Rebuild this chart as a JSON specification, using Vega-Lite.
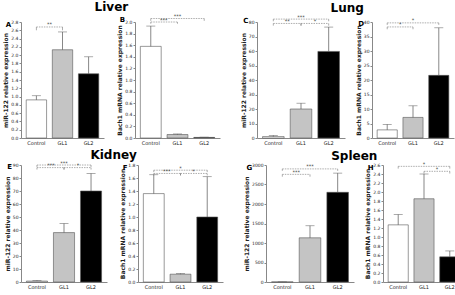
{
  "$schema": "https://vega.github.io/schema/vega-lite/v6.json",
  "padding": {"left": 2, "top": 1, "right": 2, "bottom": 1},
  "background": "white",
  "datasets": {
    "bars": [
      {"panel": "A", "group": "Control", "mean": 0.92, "upper": 1.02},
      {"panel": "A", "group": "GL1", "mean": 2.13, "upper": 2.56},
      {"panel": "A", "group": "GL2", "mean": 1.55, "upper": 1.96},
      {"panel": "B", "group": "Control", "mean": 1.58, "upper": 1.93},
      {"panel": "B", "group": "GL1", "mean": 0.06, "upper": 0.07},
      {"panel": "B", "group": "GL2", "mean": 0.01, "upper": 0.015},
      {"panel": "C", "group": "Control", "mean": 1.0, "upper": 1.8},
      {"panel": "C", "group": "GL1", "mean": 20.0, "upper": 24.0},
      {"panel": "C", "group": "GL2", "mean": 59.7, "upper": 76.5},
      {"panel": "D", "group": "Control", "mean": 2.8, "upper": 4.7},
      {"panel": "D", "group": "GL1", "mean": 7.1, "upper": 11.1},
      {"panel": "D", "group": "GL2", "mean": 21.6, "upper": 38.0},
      {"panel": "E", "group": "Control", "mean": 0.7, "upper": 1.2},
      {"panel": "E", "group": "GL1", "mean": 38.0, "upper": 45.0},
      {"panel": "E", "group": "GL2", "mean": 70.0, "upper": 83.5},
      {"panel": "F", "group": "Control", "mean": 1.36, "upper": 1.65},
      {"panel": "F", "group": "GL1", "mean": 0.12, "upper": 0.13},
      {"panel": "F", "group": "GL2", "mean": 1.0, "upper": 1.62},
      {"panel": "G", "group": "Control", "mean": 2, "upper": 4},
      {"panel": "G", "group": "GL1", "mean": 1133, "upper": 1442},
      {"panel": "G", "group": "GL2", "mean": 2300, "upper": 2792},
      {"panel": "H", "group": "Control", "mean": 1.27, "upper": 1.5},
      {"panel": "H", "group": "GL1", "mean": 1.85, "upper": 2.4},
      {"panel": "H", "group": "GL2", "mean": 0.56, "upper": 0.69}
    ],
    "sig": [
      {"panel": "A", "from": "Control", "to": "GL1", "y": 2.68, "ylow": 2.6, "label": "**"},
      {"panel": "B", "from": "Control", "to": "GL2", "y": 2.06, "ylow": 2.02, "label": "***"},
      {"panel": "B", "from": "Control", "to": "GL1", "y": 2.0, "ylow": 1.97, "label": "***"},
      {"panel": "C", "from": "Control", "to": "GL2", "y": 82, "ylow": 80.5, "label": "***"},
      {"panel": "C", "from": "Control", "to": "GL1", "y": 79, "ylow": 77.5, "label": "**"},
      {"panel": "C", "from": "GL1", "to": "GL2", "y": 79, "ylow": 77.5, "label": "*"},
      {"panel": "D", "from": "Control", "to": "GL2", "y": 39.7, "ylow": 39, "label": "*"},
      {"panel": "D", "from": "Control", "to": "GL1", "y": 38.3, "ylow": 37.5, "label": "*"},
      {"panel": "E", "from": "Control", "to": "GL2", "y": 90, "ylow": 88.5, "label": "***"},
      {"panel": "E", "from": "Control", "to": "GL1", "y": 88, "ylow": 86.5, "label": "***"},
      {"panel": "E", "from": "GL1", "to": "GL2", "y": 88, "ylow": 86.5, "label": "*"},
      {"panel": "F", "from": "Control", "to": "GL2", "y": 1.72, "ylow": 1.69, "label": "*"},
      {"panel": "F", "from": "Control", "to": "GL1", "y": 1.67, "ylow": 1.64, "label": "***"},
      {"panel": "F", "from": "GL1", "to": "GL2", "y": 1.67, "ylow": 1.64, "label": "*"},
      {"panel": "G", "from": "Control", "to": "GL2", "y": 2900, "ylow": 2850, "label": "***"},
      {"panel": "G", "from": "Control", "to": "GL1", "y": 2760, "ylow": 2700, "label": "***"},
      {"panel": "H", "from": "Control", "to": "GL2", "y": 2.57, "ylow": 2.52, "label": "*"},
      {"panel": "H", "from": "GL1", "to": "GL2", "y": 2.46, "ylow": 2.41, "label": "*"}
    ]
  },
  "vconcat": [
    {
      "hconcat": [
        {
          "title": {"text": "Liver", "fontSize": 12, "anchor": "middle", "offset": 0, "dx": 0, "frame": "bounds"},
          "spacing": 12,
          "hconcat": [
            {
              "title": {"text": "A"},
              "width": 83, "height": 116,
              "layer": [
                {"data": {"name": "bars"}, "transform": [{"filter": "datum.panel == 'A'"}],
                 "mark": {"type": "bar", "stroke": "#555", "strokeWidth": 0.6},
                 "encoding": {
                   "x": {"field": "group", "type": "nominal", "scale": {"domain": ["Control", "GL1", "GL2"], "paddingInner": 0.22, "paddingOuter": 0.2}, "axis": {"title": null, "labelAngle": 0, "ticks": false}},
                   "y": {"field": "mean", "type": "quantitative", "scale": {"domain": [0, 2.8], "nice": false}, "axis": {"title": "miR-122 relative expression", "values": [0, 0.2, 0.4, 0.6, 0.8, 1.0, 1.2, 1.4, 1.6, 1.8, 2.0, 2.2, 2.4, 2.6, 2.8], "tickCount": 30, "format": ".1f", "labelOverlap": false}},
                   "fill": {"field": "group", "type": "nominal", "scale": {"domain": ["Control", "GL1", "GL2"], "range": ["white", "#c4c4c4", "black"]}, "legend": null}
                 }},
                {"data": {"name": "bars"}, "transform": [{"filter": "datum.panel == 'A'"}],
                 "mark": {"type": "rule", "color": "#555", "strokeWidth": 0.7},
                 "encoding": {"x": {"field": "group", "type": "nominal"}, "y": {"field": "mean", "type": "quantitative"}, "y2": {"field": "upper"}}},
                {"data": {"name": "bars"}, "transform": [{"filter": "datum.panel == 'A'"}],
                 "mark": {"type": "tick", "color": "#555", "size": 9, "thickness": 0.7},
                 "encoding": {"x": {"field": "group", "type": "nominal"}, "y": {"field": "upper", "type": "quantitative"}}},
                {"data": {"name": "sig"}, "transform": [{"filter": "datum.panel == 'A'"}],
                 "mark": {"type": "rule", "color": "#777", "strokeWidth": 0.6, "strokeDash": [1.5, 1]},
                 "encoding": {"x": {"field": "from", "type": "nominal"}, "x2": {"field": "to"}, "y": {"field": "y", "type": "quantitative"}}},
                {"data": {"name": "sig"}, "transform": [{"filter": "datum.panel == 'A'"}],
                 "mark": {"type": "rule", "color": "#777", "strokeWidth": 0.6},
                 "encoding": {"x": {"field": "from", "type": "nominal"}, "y": {"field": "y", "type": "quantitative"}, "y2": {"field": "ylow"}}},
                {"data": {"name": "sig"}, "transform": [{"filter": "datum.panel == 'A'"}],
                 "mark": {"type": "rule", "color": "#777", "strokeWidth": 0.6},
                 "encoding": {"x": {"field": "to", "type": "nominal"}, "y": {"field": "y", "type": "quantitative"}, "y2": {"field": "ylow"}}},
                {"data": {"name": "sig"}, "transform": [{"filter": "datum.panel == 'A'"}],
                 "mark": {"type": "text", "fontSize": 5, "dy": -2.5, "dx": 13, "color": "#444"},
                 "encoding": {"x": {"field": "from", "type": "nominal"}, "y": {"field": "y", "type": "quantitative"}, "text": {"field": "label"}}}
              ]
            },
            {
              "title": {"text": "B"},
              "width": 85, "height": 116,
              "layer": [
                {"data": {"name": "bars"}, "transform": [{"filter": "datum.panel == 'B'"}],
                 "mark": {"type": "bar", "stroke": "#555", "strokeWidth": 0.6},
                 "encoding": {
                   "x": {"field": "group", "type": "nominal", "scale": {"domain": ["Control", "GL1", "GL2"], "paddingInner": 0.22, "paddingOuter": 0.2}, "axis": {"title": null, "labelAngle": 0, "ticks": false}},
                   "y": {"field": "mean", "type": "quantitative", "scale": {"domain": [0, 2.0], "nice": false}, "axis": {"title": "Bach1 mRNA relative expression", "values": [0, 0.2, 0.4, 0.6, 0.8, 1.0, 1.2, 1.4, 1.6, 1.8, 2.0], "tickCount": 30, "format": ".1f", "labelOverlap": false}},
                   "fill": {"field": "group", "type": "nominal", "scale": {"domain": ["Control", "GL1", "GL2"], "range": ["white", "#c4c4c4", "black"]}, "legend": null}
                 }},
                {"data": {"name": "bars"}, "transform": [{"filter": "datum.panel == 'B'"}],
                 "mark": {"type": "rule", "color": "#555", "strokeWidth": 0.7},
                 "encoding": {"x": {"field": "group", "type": "nominal"}, "y": {"field": "mean", "type": "quantitative"}, "y2": {"field": "upper"}}},
                {"data": {"name": "bars"}, "transform": [{"filter": "datum.panel == 'B'"}],
                 "mark": {"type": "tick", "color": "#555", "size": 9, "thickness": 0.7},
                 "encoding": {"x": {"field": "group", "type": "nominal"}, "y": {"field": "upper", "type": "quantitative"}}},
                {"data": {"name": "sig"}, "transform": [{"filter": "datum.panel == 'B'"}],
                 "mark": {"type": "rule", "color": "#777", "strokeWidth": 0.6, "strokeDash": [1.5, 1]},
                 "encoding": {"x": {"field": "from", "type": "nominal"}, "x2": {"field": "to"}, "y": {"field": "y", "type": "quantitative"}}},
                {"data": {"name": "sig"}, "transform": [{"filter": "datum.panel == 'B'"}],
                 "mark": {"type": "rule", "color": "#777", "strokeWidth": 0.6},
                 "encoding": {"x": {"field": "from", "type": "nominal"}, "y": {"field": "y", "type": "quantitative"}, "y2": {"field": "ylow"}}},
                {"data": {"name": "sig"}, "transform": [{"filter": "datum.panel == 'B'"}],
                 "mark": {"type": "rule", "color": "#777", "strokeWidth": 0.6},
                 "encoding": {"x": {"field": "to", "type": "nominal"}, "y": {"field": "y", "type": "quantitative"}, "y2": {"field": "ylow"}}},
                {"data": {"name": "sig"}, "transform": [{"filter": "datum.panel == 'B' && datum.from == 'Control' && datum.to == 'GL2'"}],
                 "mark": {"type": "text", "fontSize": 5, "dy": -2.5, "color": "#444"},
                 "encoding": {"x": {"datum": "GL1", "type": "nominal"}, "y": {"field": "y", "type": "quantitative"}, "text": {"field": "label"}}},
                {"data": {"name": "sig"}, "transform": [{"filter": "datum.panel == 'B' && !(datum.from == 'Control' && datum.to == 'GL2')"}],
                 "mark": {"type": "text", "fontSize": 5, "dy": -2.5, "dx": 13, "color": "#444"},
                 "encoding": {"x": {"field": "from", "type": "nominal"}, "y": {"field": "y", "type": "quantitative"}, "text": {"field": "label"}}}
              ]
            }
          ]
        },
        {
          "title": {"text": "Lung", "fontSize": 12, "anchor": "middle", "offset": 0, "dx": 0, "frame": "bounds"},
          "spacing": 10,
          "hconcat": [
            {
              "title": {"text": "C"},
              "width": 88, "height": 116,
              "layer": [
                {"data": {"name": "bars"}, "transform": [{"filter": "datum.panel == 'C'"}],
                 "mark": {"type": "bar", "stroke": "#555", "strokeWidth": 0.6},
                 "encoding": {
                   "x": {"field": "group", "type": "nominal", "scale": {"domain": ["Control", "GL1", "GL2"], "paddingInner": 0.22, "paddingOuter": 0.2}, "axis": {"title": null, "labelAngle": 0, "ticks": false}},
                   "y": {"field": "mean", "type": "quantitative", "scale": {"domain": [0, 80], "nice": false}, "axis": {"title": "miR-122 relative expression", "values": [0, 10, 20, 30, 40, 50, 60, 70, 80], "tickCount": 30, "labelOverlap": false}},
                   "fill": {"field": "group", "type": "nominal", "scale": {"domain": ["Control", "GL1", "GL2"], "range": ["white", "#c4c4c4", "black"]}, "legend": null}
                 }},
                {"data": {"name": "bars"}, "transform": [{"filter": "datum.panel == 'C'"}],
                 "mark": {"type": "rule", "color": "#555", "strokeWidth": 0.7},
                 "encoding": {"x": {"field": "group", "type": "nominal"}, "y": {"field": "mean", "type": "quantitative"}, "y2": {"field": "upper"}}},
                {"data": {"name": "bars"}, "transform": [{"filter": "datum.panel == 'C'"}],
                 "mark": {"type": "tick", "color": "#555", "size": 9, "thickness": 0.7},
                 "encoding": {"x": {"field": "group", "type": "nominal"}, "y": {"field": "upper", "type": "quantitative"}}},
                {"data": {"name": "sig"}, "transform": [{"filter": "datum.panel == 'C'"}],
                 "mark": {"type": "rule", "color": "#777", "strokeWidth": 0.6, "strokeDash": [1.5, 1]},
                 "encoding": {"x": {"field": "from", "type": "nominal"}, "x2": {"field": "to"}, "y": {"field": "y", "type": "quantitative"}}},
                {"data": {"name": "sig"}, "transform": [{"filter": "datum.panel == 'C'"}],
                 "mark": {"type": "rule", "color": "#777", "strokeWidth": 0.6},
                 "encoding": {"x": {"field": "from", "type": "nominal"}, "y": {"field": "y", "type": "quantitative"}, "y2": {"field": "ylow"}}},
                {"data": {"name": "sig"}, "transform": [{"filter": "datum.panel == 'C'"}],
                 "mark": {"type": "rule", "color": "#777", "strokeWidth": 0.6},
                 "encoding": {"x": {"field": "to", "type": "nominal"}, "y": {"field": "y", "type": "quantitative"}, "y2": {"field": "ylow"}}},
                {"data": {"name": "sig"}, "transform": [{"filter": "datum.panel == 'C' && datum.from == 'Control' && datum.to == 'GL2'"}],
                 "mark": {"type": "text", "fontSize": 5, "dy": -2.5, "color": "#444"},
                 "encoding": {"x": {"datum": "GL1", "type": "nominal"}, "y": {"field": "y", "type": "quantitative"}, "text": {"field": "label"}}},
                {"data": {"name": "sig"}, "transform": [{"filter": "datum.panel == 'C' && !(datum.from == 'Control' && datum.to == 'GL2')"}],
                 "mark": {"type": "text", "fontSize": 5, "dy": -2.5, "dx": 14, "color": "#444"},
                 "encoding": {"x": {"field": "from", "type": "nominal"}, "y": {"field": "y", "type": "quantitative"}, "text": {"field": "label"}}}
              ]
            },
            {
              "title": {"text": "D"},
              "width": 82, "height": 116,
              "layer": [
                {"data": {"name": "bars"}, "transform": [{"filter": "datum.panel == 'D'"}],
                 "mark": {"type": "bar", "stroke": "#555", "strokeWidth": 0.6},
                 "encoding": {
                   "x": {"field": "group", "type": "nominal", "scale": {"domain": ["Control", "GL1", "GL2"], "paddingInner": 0.22, "paddingOuter": 0.2}, "axis": {"title": null, "labelAngle": 0, "ticks": false}},
                   "y": {"field": "mean", "type": "quantitative", "scale": {"domain": [0, 40], "nice": false}, "axis": {"title": "Bach1 mRNA relative expression", "values": [0, 5, 10, 15, 20, 25, 30, 35, 40], "tickCount": 30, "labelOverlap": false}},
                   "fill": {"field": "group", "type": "nominal", "scale": {"domain": ["Control", "GL1", "GL2"], "range": ["white", "#c4c4c4", "black"]}, "legend": null}
                 }},
                {"data": {"name": "bars"}, "transform": [{"filter": "datum.panel == 'D'"}],
                 "mark": {"type": "rule", "color": "#555", "strokeWidth": 0.7},
                 "encoding": {"x": {"field": "group", "type": "nominal"}, "y": {"field": "mean", "type": "quantitative"}, "y2": {"field": "upper"}}},
                {"data": {"name": "bars"}, "transform": [{"filter": "datum.panel == 'D'"}],
                 "mark": {"type": "tick", "color": "#555", "size": 9, "thickness": 0.7},
                 "encoding": {"x": {"field": "group", "type": "nominal"}, "y": {"field": "upper", "type": "quantitative"}}},
                {"data": {"name": "sig"}, "transform": [{"filter": "datum.panel == 'D'"}],
                 "mark": {"type": "rule", "color": "#777", "strokeWidth": 0.6, "strokeDash": [1.5, 1]},
                 "encoding": {"x": {"field": "from", "type": "nominal"}, "x2": {"field": "to"}, "y": {"field": "y", "type": "quantitative"}}},
                {"data": {"name": "sig"}, "transform": [{"filter": "datum.panel == 'D'"}],
                 "mark": {"type": "rule", "color": "#777", "strokeWidth": 0.6},
                 "encoding": {"x": {"field": "from", "type": "nominal"}, "y": {"field": "y", "type": "quantitative"}, "y2": {"field": "ylow"}}},
                {"data": {"name": "sig"}, "transform": [{"filter": "datum.panel == 'D'"}],
                 "mark": {"type": "rule", "color": "#777", "strokeWidth": 0.6},
                 "encoding": {"x": {"field": "to", "type": "nominal"}, "y": {"field": "y", "type": "quantitative"}, "y2": {"field": "ylow"}}},
                {"data": {"name": "sig"}, "transform": [{"filter": "datum.panel == 'D' && datum.from == 'Control' && datum.to == 'GL2'"}],
                 "mark": {"type": "text", "fontSize": 5, "dy": -2.5, "color": "#444"},
                 "encoding": {"x": {"datum": "GL1", "type": "nominal"}, "y": {"field": "y", "type": "quantitative"}, "text": {"field": "label"}}},
                {"data": {"name": "sig"}, "transform": [{"filter": "datum.panel == 'D' && !(datum.from == 'Control' && datum.to == 'GL2')"}],
                 "mark": {"type": "text", "fontSize": 5, "dy": -2.5, "dx": 13, "color": "#444"},
                 "encoding": {"x": {"field": "from", "type": "nominal"}, "y": {"field": "y", "type": "quantitative"}, "text": {"field": "label"}}}
              ]
            }
          ]
        }
      ]
    },
    {
      "hconcat": [
        {
          "title": {"text": "Kidney", "fontSize": 12, "anchor": "middle", "offset": -1, "dx": 0, "frame": "bounds"},
          "spacing": 12,
          "hconcat": [
            {
              "title": {"text": "E"},
              "width": 86, "height": 117,
              "layer": [
                {"data": {"name": "bars"}, "transform": [{"filter": "datum.panel == 'E'"}],
                 "mark": {"type": "bar", "stroke": "#555", "strokeWidth": 0.6},
                 "encoding": {
                   "x": {"field": "group", "type": "nominal", "scale": {"domain": ["Control", "GL1", "GL2"], "paddingInner": 0.22, "paddingOuter": 0.2}, "axis": {"title": null, "labelAngle": 0, "ticks": false}},
                   "y": {"field": "mean", "type": "quantitative", "scale": {"domain": [0, 90], "nice": false}, "axis": {"title": "miR-122 relative expression", "values": [0, 10, 20, 30, 40, 50, 60, 70, 80, 90], "tickCount": 30, "labelOverlap": false}},
                   "fill": {"field": "group", "type": "nominal", "scale": {"domain": ["Control", "GL1", "GL2"], "range": ["white", "#c4c4c4", "black"]}, "legend": null}
                 }},
                {"data": {"name": "bars"}, "transform": [{"filter": "datum.panel == 'E'"}],
                 "mark": {"type": "rule", "color": "#555", "strokeWidth": 0.7},
                 "encoding": {"x": {"field": "group", "type": "nominal"}, "y": {"field": "mean", "type": "quantitative"}, "y2": {"field": "upper"}}},
                {"data": {"name": "bars"}, "transform": [{"filter": "datum.panel == 'E'"}],
                 "mark": {"type": "tick", "color": "#555", "size": 9, "thickness": 0.7},
                 "encoding": {"x": {"field": "group", "type": "nominal"}, "y": {"field": "upper", "type": "quantitative"}}},
                {"data": {"name": "sig"}, "transform": [{"filter": "datum.panel == 'E'"}],
                 "mark": {"type": "rule", "color": "#777", "strokeWidth": 0.6, "strokeDash": [1.5, 1]},
                 "encoding": {"x": {"field": "from", "type": "nominal"}, "x2": {"field": "to"}, "y": {"field": "y", "type": "quantitative"}}},
                {"data": {"name": "sig"}, "transform": [{"filter": "datum.panel == 'E'"}],
                 "mark": {"type": "rule", "color": "#777", "strokeWidth": 0.6},
                 "encoding": {"x": {"field": "from", "type": "nominal"}, "y": {"field": "y", "type": "quantitative"}, "y2": {"field": "ylow"}}},
                {"data": {"name": "sig"}, "transform": [{"filter": "datum.panel == 'E'"}],
                 "mark": {"type": "rule", "color": "#777", "strokeWidth": 0.6},
                 "encoding": {"x": {"field": "to", "type": "nominal"}, "y": {"field": "y", "type": "quantitative"}, "y2": {"field": "ylow"}}},
                {"data": {"name": "sig"}, "transform": [{"filter": "datum.panel == 'E' && datum.from == 'Control' && datum.to == 'GL2'"}],
                 "mark": {"type": "text", "fontSize": 5, "dy": -2.5, "color": "#444"},
                 "encoding": {"x": {"datum": "GL1", "type": "nominal"}, "y": {"field": "y", "type": "quantitative"}, "text": {"field": "label"}}},
                {"data": {"name": "sig"}, "transform": [{"filter": "datum.panel == 'E' && !(datum.from == 'Control' && datum.to == 'GL2')"}],
                 "mark": {"type": "text", "fontSize": 5, "dy": -2.5, "dx": 14, "color": "#444"},
                 "encoding": {"x": {"field": "from", "type": "nominal"}, "y": {"field": "y", "type": "quantitative"}, "text": {"field": "label"}}}
              ]
            },
            {
              "title": {"text": "F"},
              "width": 85, "height": 117,
              "layer": [
                {"data": {"name": "bars"}, "transform": [{"filter": "datum.panel == 'F'"}],
                 "mark": {"type": "bar", "stroke": "#555", "strokeWidth": 0.6},
                 "encoding": {
                   "x": {"field": "group", "type": "nominal", "scale": {"domain": ["Control", "GL1", "GL2"], "paddingInner": 0.22, "paddingOuter": 0.2}, "axis": {"title": null, "labelAngle": 0, "ticks": false}},
                   "y": {"field": "mean", "type": "quantitative", "scale": {"domain": [0, 1.8], "nice": false}, "axis": {"title": "Bach1 mRNA relative expression", "values": [0, 0.2, 0.4, 0.6, 0.8, 1.0, 1.2, 1.4, 1.6, 1.8], "tickCount": 30, "format": ".1f", "labelOverlap": false}},
                   "fill": {"field": "group", "type": "nominal", "scale": {"domain": ["Control", "GL1", "GL2"], "range": ["white", "#c4c4c4", "black"]}, "legend": null}
                 }},
                {"data": {"name": "bars"}, "transform": [{"filter": "datum.panel == 'F'"}],
                 "mark": {"type": "rule", "color": "#555", "strokeWidth": 0.7},
                 "encoding": {"x": {"field": "group", "type": "nominal"}, "y": {"field": "mean", "type": "quantitative"}, "y2": {"field": "upper"}}},
                {"data": {"name": "bars"}, "transform": [{"filter": "datum.panel == 'F'"}],
                 "mark": {"type": "tick", "color": "#555", "size": 9, "thickness": 0.7},
                 "encoding": {"x": {"field": "group", "type": "nominal"}, "y": {"field": "upper", "type": "quantitative"}}},
                {"data": {"name": "sig"}, "transform": [{"filter": "datum.panel == 'F'"}],
                 "mark": {"type": "rule", "color": "#777", "strokeWidth": 0.6, "strokeDash": [1.5, 1]},
                 "encoding": {"x": {"field": "from", "type": "nominal"}, "x2": {"field": "to"}, "y": {"field": "y", "type": "quantitative"}}},
                {"data": {"name": "sig"}, "transform": [{"filter": "datum.panel == 'F'"}],
                 "mark": {"type": "rule", "color": "#777", "strokeWidth": 0.6},
                 "encoding": {"x": {"field": "from", "type": "nominal"}, "y": {"field": "y", "type": "quantitative"}, "y2": {"field": "ylow"}}},
                {"data": {"name": "sig"}, "transform": [{"filter": "datum.panel == 'F'"}],
                 "mark": {"type": "rule", "color": "#777", "strokeWidth": 0.6},
                 "encoding": {"x": {"field": "to", "type": "nominal"}, "y": {"field": "y", "type": "quantitative"}, "y2": {"field": "ylow"}}},
                {"data": {"name": "sig"}, "transform": [{"filter": "datum.panel == 'F' && datum.from == 'Control' && datum.to == 'GL2'"}],
                 "mark": {"type": "text", "fontSize": 5, "dy": -2.5, "color": "#444"},
                 "encoding": {"x": {"datum": "GL1", "type": "nominal"}, "y": {"field": "y", "type": "quantitative"}, "text": {"field": "label"}}},
                {"data": {"name": "sig"}, "transform": [{"filter": "datum.panel == 'F' && !(datum.from == 'Control' && datum.to == 'GL2')"}],
                 "mark": {"type": "text", "fontSize": 5, "dy": -2.5, "dx": 13, "color": "#444"},
                 "encoding": {"x": {"field": "from", "type": "nominal"}, "y": {"field": "y", "type": "quantitative"}, "text": {"field": "label"}}}
              ]
            }
          ]
        },
        {
          "title": {"text": "Spleen", "fontSize": 12, "anchor": "middle", "offset": -1, "dx": 0, "frame": "bounds"},
          "spacing": 10,
          "hconcat": [
            {
              "title": {"text": "G"},
              "width": 88, "height": 117,
              "layer": [
                {"data": {"name": "bars"}, "transform": [{"filter": "datum.panel == 'G'"}],
                 "mark": {"type": "bar", "stroke": "#555", "strokeWidth": 0.6},
                 "encoding": {
                   "x": {"field": "group", "type": "nominal", "scale": {"domain": ["Control", "GL1", "GL2"], "paddingInner": 0.22, "paddingOuter": 0.2}, "axis": {"title": null, "labelAngle": 0, "ticks": false}},
                   "y": {"field": "mean", "type": "quantitative", "scale": {"domain": [0, 3000], "nice": false}, "axis": {"title": "miR-122 relative expression", "values": [0, 500, 1000, 1500, 2000, 2500, 3000], "tickCount": 30, "format": "d", "labelOverlap": false}},
                   "fill": {"field": "group", "type": "nominal", "scale": {"domain": ["Control", "GL1", "GL2"], "range": ["white", "#c4c4c4", "black"]}, "legend": null}
                 }},
                {"data": {"name": "bars"}, "transform": [{"filter": "datum.panel == 'G'"}],
                 "mark": {"type": "rule", "color": "#555", "strokeWidth": 0.7},
                 "encoding": {"x": {"field": "group", "type": "nominal"}, "y": {"field": "mean", "type": "quantitative"}, "y2": {"field": "upper"}}},
                {"data": {"name": "bars"}, "transform": [{"filter": "datum.panel == 'G'"}],
                 "mark": {"type": "tick", "color": "#555", "size": 9, "thickness": 0.7},
                 "encoding": {"x": {"field": "group", "type": "nominal"}, "y": {"field": "upper", "type": "quantitative"}}},
                {"data": {"name": "sig"}, "transform": [{"filter": "datum.panel == 'G'"}],
                 "mark": {"type": "rule", "color": "#777", "strokeWidth": 0.6, "strokeDash": [1.5, 1]},
                 "encoding": {"x": {"field": "from", "type": "nominal"}, "x2": {"field": "to"}, "y": {"field": "y", "type": "quantitative"}}},
                {"data": {"name": "sig"}, "transform": [{"filter": "datum.panel == 'G'"}],
                 "mark": {"type": "rule", "color": "#777", "strokeWidth": 0.6},
                 "encoding": {"x": {"field": "from", "type": "nominal"}, "y": {"field": "y", "type": "quantitative"}, "y2": {"field": "ylow"}}},
                {"data": {"name": "sig"}, "transform": [{"filter": "datum.panel == 'G'"}],
                 "mark": {"type": "rule", "color": "#777", "strokeWidth": 0.6},
                 "encoding": {"x": {"field": "to", "type": "nominal"}, "y": {"field": "y", "type": "quantitative"}, "y2": {"field": "ylow"}}},
                {"data": {"name": "sig"}, "transform": [{"filter": "datum.panel == 'G' && datum.from == 'Control' && datum.to == 'GL2'"}],
                 "mark": {"type": "text", "fontSize": 5, "dy": -2.5, "color": "#444"},
                 "encoding": {"x": {"datum": "GL1", "type": "nominal"}, "y": {"field": "y", "type": "quantitative"}, "text": {"field": "label"}}},
                {"data": {"name": "sig"}, "transform": [{"filter": "datum.panel == 'G' && !(datum.from == 'Control' && datum.to == 'GL2')"}],
                 "mark": {"type": "text", "fontSize": 5, "dy": -2.5, "dx": 14, "color": "#444"},
                 "encoding": {"x": {"field": "from", "type": "nominal"}, "y": {"field": "y", "type": "quantitative"}, "text": {"field": "label"}}}
              ]
            },
            {
              "title": {"text": "H"},
              "width": 82, "height": 117,
              "layer": [
                {"data": {"name": "bars"}, "transform": [{"filter": "datum.panel == 'H'"}],
                 "mark": {"type": "bar", "stroke": "#555", "strokeWidth": 0.6},
                 "encoding": {
                   "x": {"field": "group", "type": "nominal", "scale": {"domain": ["Control", "GL1", "GL2"], "paddingInner": 0.22, "paddingOuter": 0.2}, "axis": {"title": null, "labelAngle": 0, "ticks": false}},
                   "y": {"field": "mean", "type": "quantitative", "scale": {"domain": [0, 2.6], "nice": false}, "axis": {"title": "Bach1 mRNA relative expression", "values": [0, 0.2, 0.4, 0.6, 0.8, 1.0, 1.2, 1.4, 1.6, 1.8, 2.0, 2.2, 2.4, 2.6], "tickCount": 30, "format": ".1f", "labelOverlap": false}},
                   "fill": {"field": "group", "type": "nominal", "scale": {"domain": ["Control", "GL1", "GL2"], "range": ["white", "#c4c4c4", "black"]}, "legend": null}
                 }},
                {"data": {"name": "bars"}, "transform": [{"filter": "datum.panel == 'H'"}],
                 "mark": {"type": "rule", "color": "#555", "strokeWidth": 0.7},
                 "encoding": {"x": {"field": "group", "type": "nominal"}, "y": {"field": "mean", "type": "quantitative"}, "y2": {"field": "upper"}}},
                {"data": {"name": "bars"}, "transform": [{"filter": "datum.panel == 'H'"}],
                 "mark": {"type": "tick", "color": "#555", "size": 9, "thickness": 0.7},
                 "encoding": {"x": {"field": "group", "type": "nominal"}, "y": {"field": "upper", "type": "quantitative"}}},
                {"data": {"name": "sig"}, "transform": [{"filter": "datum.panel == 'H'"}],
                 "mark": {"type": "rule", "color": "#777", "strokeWidth": 0.6, "strokeDash": [1.5, 1]},
                 "encoding": {"x": {"field": "from", "type": "nominal"}, "x2": {"field": "to"}, "y": {"field": "y", "type": "quantitative"}}},
                {"data": {"name": "sig"}, "transform": [{"filter": "datum.panel == 'H'"}],
                 "mark": {"type": "rule", "color": "#777", "strokeWidth": 0.6},
                 "encoding": {"x": {"field": "from", "type": "nominal"}, "y": {"field": "y", "type": "quantitative"}, "y2": {"field": "ylow"}}},
                {"data": {"name": "sig"}, "transform": [{"filter": "datum.panel == 'H'"}],
                 "mark": {"type": "rule", "color": "#777", "strokeWidth": 0.6},
                 "encoding": {"x": {"field": "to", "type": "nominal"}, "y": {"field": "y", "type": "quantitative"}, "y2": {"field": "ylow"}}},
                {"data": {"name": "sig"}, "transform": [{"filter": "datum.panel == 'H' && datum.from == 'Control' && datum.to == 'GL2'"}],
                 "mark": {"type": "text", "fontSize": 5, "dy": -2.5, "color": "#444"},
                 "encoding": {"x": {"datum": "GL1", "type": "nominal"}, "y": {"field": "y", "type": "quantitative"}, "text": {"field": "label"}}},
                {"data": {"name": "sig"}, "transform": [{"filter": "datum.panel == 'H' && !(datum.from == 'Control' && datum.to == 'GL2')"}],
                 "mark": {"type": "text", "fontSize": 5, "dy": -2.5, "dx": 13, "color": "#444"},
                 "encoding": {"x": {"field": "from", "type": "nominal"}, "y": {"field": "y", "type": "quantitative"}, "text": {"field": "label"}}}
              ]
            }
          ]
        }
      ]
    }
  ],
  "spacing": 3,
  "config": {
    "font": "DejaVu Sans",
    "view": {"stroke": null},
    "title": {"fontSize": 7, "fontWeight": "bold", "anchor": "start", "offset": -9, "dx": 3, "color": "black", "font": "DejaVu Sans"},
    "axis": {"labelFontSize": 4.5, "labelColor": "#222", "labelOverlap": false, "domainColor": "#888", "tickColor": "#888", "tickSize": 2, "labelPadding": 1, "titleFontSize": 6, "titleFontWeight": "bold", "titleColor": "#222", "titlePadding": 2, "grid": false},
    "axisX": {"labelFontSize": 5, "labelPadding": 2}
  }
}
